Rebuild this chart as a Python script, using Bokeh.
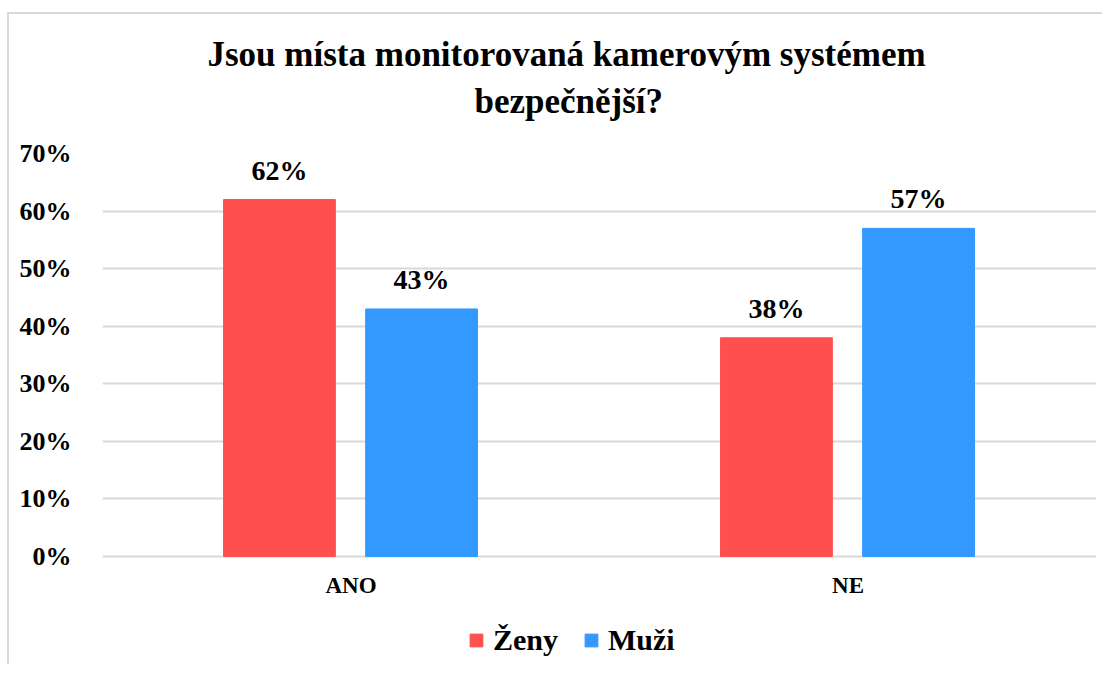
from bokeh.plotting import figure
from bokeh.models import ColumnDataSource, FactorRange, Range1d, FixedTicker, PrintfTickFormatter, Legend, LegendItem, LabelSet, Title
from bokeh.transform import dodge
from bokeh.embed import file_html
from bokeh.resources import INLINE

categories = ["ANO", "NE"]
zeny = [62, 38]
muzi = [43, 57]
zeny_labels = ["62%", "38%"]
muzi_labels = ["43%", "57%"]
y_ticks = [0, 10, 20, 30, 40, 50, 60, 70]
title_line1 = "Jsou místa monitorovaná kamerovým systémem"
title_line2 = "bezpečnější?"

FONT = "Liberation Serif"
RED = "#FF5050"
BLUE = "#3399FF"

src = ColumnDataSource(dict(cat=categories, zeny=zeny, muzi=muzi, zl=zeny_labels, ml=muzi_labels))

# frame extends below zero to hold category labels and legend
p = figure(x_range=FactorRange(*categories, range_padding=0), y_range=Range1d(-19.1, 70),
           width=1095, height=652, output_backend="svg", toolbar_location=None,
           min_border_left=93, min_border_right=8, min_border_top=139, min_border_bottom=0)
p.styles = {"border-left": "2px solid #d9d9d9", "border-top": "2px solid #d9d9d9",
            "margin-top": "12px", "margin-left": "7px"}
p.outline_line_color = None
p.xaxis.visible = False

for txt, so, off in ((title_line2, 65, 372), (title_line1, -53, 105)):
    p.add_layout(Title(text=txt, align="left", offset=off, text_font=FONT, text_font_size="35px",
                       text_font_style="bold", text_color="#000000", standoff=so), "above")

r1 = p.vbar(x=dodge("cat", -0.144, range=p.x_range), top="zeny", width=0.225, source=src,
            fill_color=RED, line_color=RED)
r2 = p.vbar(x=dodge("cat", 0.142, range=p.x_range), top="muzi", width=0.225, source=src,
            fill_color=BLUE, line_color=BLUE)

for col, lab, off in (("zeny", "zl", -0.144), ("muzi", "ml", 0.142)):
    ls = LabelSet(x=dodge("cat", off, range=p.x_range), y=col, text=lab, source=src,
                  text_align="center", text_baseline="alphabetic", y_offset=20,
                  text_font=FONT, text_font_size="28px", text_font_style="bold", text_color="#000000")
    p.add_layout(ls)

cat_labels = LabelSet(x="cat", y=0, text="cat", source=src, text_align="center", text_baseline="top",
                      y_offset=-16, text_font=FONT, text_font_size="23px", text_font_style="bold",
                      text_color="#000000")
p.add_layout(cat_labels)

p.yaxis.ticker = FixedTicker(ticks=y_ticks)
p.yaxis.formatter = PrintfTickFormatter(format="%d%%")
ax = p.yaxis[0]
ax.axis_line_color = None
ax.major_tick_line_color = None
ax.minor_tick_line_color = None
ax.major_label_text_font = FONT
ax.major_label_text_font_style = "bold"
ax.major_label_text_color = "#000000"
ax.major_label_text_font_size = "26px"
ax.major_label_standoff = 25

p.xgrid.grid_line_color = None
p.ygrid.grid_line_color = "#d9d9d9"
p.ygrid.grid_line_width = 2

legend = Legend(items=[LegendItem(label="Ženy", renderers=[r1]), LegendItem(label="Muži", renderers=[r2])],
                orientation="horizontal", location=(366, 9),
                label_text_font=FONT, label_text_font_size="30px", label_text_font_style="bold",
                label_text_color="#000000", glyph_width=16, glyph_height=16, label_standoff=9,
                spacing=25, padding=0, margin=0, border_line_color=None, background_fill_color=None)
p.add_layout(legend, "center")

open("out.html", "w").write(file_html(p, INLINE))
